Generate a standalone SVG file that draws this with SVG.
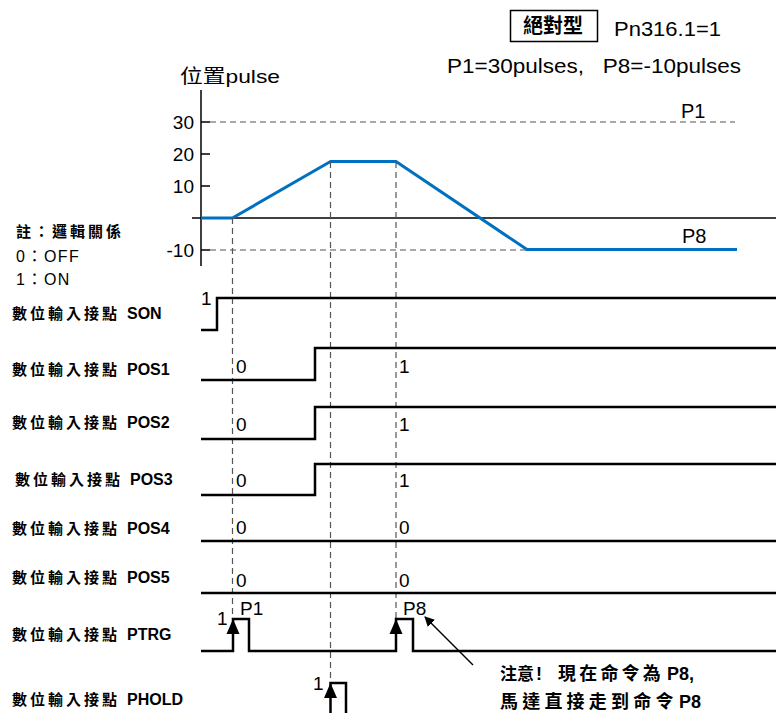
<svg xmlns="http://www.w3.org/2000/svg" width="776" height="713" viewBox="0 0 776 713">
<style>
text{font-family:"Liberation Sans","Noto Sans CJK TC",sans-serif;fill:#000}
.lbl{font-size:15px;font-weight:bold;letter-spacing:3px}
.lat{font-size:16px;font-weight:bold}
.ax{font-size:19px;text-anchor:end}
.v{font-size:19px}
.sig{fill:none;stroke:#000;stroke-width:2.5}
.dash{fill:none;stroke:#555;stroke-width:1.2;stroke-dasharray:6,4}
.blk{fill:none;stroke:#000;stroke-width:1.5}
.tri{fill:#000;stroke:none}
.ann{font-size:18px;font-weight:bold}
</style>
<defs>
<marker id="ah" viewBox="0 0 10 10" refX="9" refY="5" markerWidth="10" markerHeight="10" markerUnits="userSpaceOnUse" orient="auto"><path d="M0,0L10,5L0,10z" fill="#000"/></marker>
</defs>
<g id="header">
<rect x="510.5" y="10.5" width="87" height="31" fill="none" stroke="#000" stroke-width="1.5"/>
<text x="553" y="33" font-size="20" font-weight="bold" text-anchor="middle">絕對型</text>
<text x="614" y="36" font-size="20" textLength="107" lengthAdjust="spacingAndGlyphs">Pn316.1=1</text>
<text x="447" y="73" font-size="20" textLength="294" lengthAdjust="spacingAndGlyphs" xml:space="preserve">P1=30pulses,   P8=-10pulses</text>
</g>
<g id="note">
<text x="16" y="237" font-size="15" font-weight="bold" letter-spacing="3">註：邏輯關係</text>
<text x="16" y="262" font-size="16" letter-spacing="1.5">0：OFF</text>
<text x="16" y="285" font-size="16" letter-spacing="1.5">1：ON</text>
</g>
<g id="position-chart">
<text x="180" y="83" font-size="19" textLength="100" lengthAdjust="spacingAndGlyphs">位置pulse</text>
<line class="blk" x1="201" y1="90" x2="201" y2="266"/>
<line class="blk" x1="192" y1="218" x2="776" y2="218"/>
<line class="blk" x1="201" y1="122" x2="210" y2="122"/>
<line class="blk" x1="201" y1="154" x2="210" y2="154"/>
<line class="blk" x1="201" y1="186" x2="210" y2="186"/>
<line class="blk" x1="201" y1="250" x2="210" y2="250"/>
<line class="dash" x1="210" y1="122" x2="735" y2="122"/>
<line class="dash" x1="210" y1="250" x2="527" y2="250"/>
<text class="ax" x="194" y="128.5">30</text>
<text class="ax" x="194" y="160.5">20</text>
<text class="ax" x="194" y="192.5">10</text>
<text class="ax" x="194" y="256.5">-10</text>
<text x="681" y="118" font-size="20">P1</text>
<text x="682" y="243" font-size="20">P8</text>
<polyline points="201,218 232.5,218 330.5,161.5 396,161.5 527,249.5 737,249.5" fill="none" stroke="#0070C0" stroke-width="3" stroke-linejoin="round"/>
</g>
<g id="connectors">
<line class="dash" x1="232.5" y1="218" x2="232.5" y2="619"/>
<line class="dash" x1="330.5" y1="162" x2="330.5" y2="683"/>
<line class="dash" x1="396" y1="162" x2="396" y2="619"/>
<line x1="473" y1="665" x2="425" y2="617" stroke="#000" stroke-width="1.5" marker-end="url(#ah)"/>
</g>
<g id="SON">
<text class="lbl" x="12" y="319">數位輸入接點</text>
<text class="lat" x="127" y="319">SON</text>
<polyline class="sig" points="201,330 217,330 217,298 776,298"/>
<text class="v" x="201" y="305">1</text>
</g>
<g id="POS1">
<text class="lbl" x="12" y="375">數位輸入接點</text>
<text class="lat" x="127" y="375">POS1</text>
<polyline class="sig" points="201,380 315,380 315,348 776,348"/>
<text class="v" x="236" y="373">0</text>
<text class="v" x="399" y="373">1</text>
</g>
<g id="POS2">
<text class="lbl" x="12" y="428">數位輸入接點</text>
<text class="lat" x="127" y="428">POS2</text>
<polyline class="sig" points="201,439 315,439 315,407 776,407"/>
<text class="v" x="236" y="431">0</text>
<text class="v" x="399" y="431">1</text>
</g>
<g id="POS3">
<text class="lbl" x="15" y="485">數位輸入接點</text>
<text class="lat" x="130" y="485">POS3</text>
<polyline class="sig" points="201,495 315,495 315,464 776,464"/>
<text class="v" x="236" y="487">0</text>
<text class="v" x="399" y="487">1</text>
</g>
<g id="POS4">
<text class="lbl" x="12" y="534">數位輸入接點</text>
<text class="lat" x="127" y="534">POS4</text>
<line class="sig" x1="201" y1="541" x2="776" y2="541"/>
<text class="v" x="236" y="534">0</text>
<text class="v" x="399" y="534">0</text>
</g>
<g id="POS5">
<text class="lbl" x="12" y="583">數位輸入接點</text>
<text class="lat" x="127" y="583">POS5</text>
<line class="sig" x1="201" y1="593" x2="776" y2="593"/>
<text class="v" x="236" y="587">0</text>
<text class="v" x="399" y="587">0</text>
</g>
<g id="PTRG">
<text class="lbl" x="12" y="640">數位輸入接點</text>
<text class="lat" x="127" y="640">PTRG</text>
<polyline class="sig" points="201,651 233,651 233,619 249,619 249,651 396,651 396,619 413,619 413,651 776,651"/>
<path class="tri" d="M233,619L226.5,634L239.5,634z"/>
<path class="tri" d="M396,619L389.5,634L402.5,634z"/>
<text class="v" x="217" y="625">1</text>
<text class="v" x="240" y="615">P1</text>
<text class="v" x="403" y="615">P8</text>
</g>
<g id="PHOLD">
<text class="lbl" x="12" y="705">數位輸入接點</text>
<text class="lat" x="127" y="705">PHOLD</text>
<polyline class="sig" points="330.5,713 330.5,683 346,683 346,713"/>
<path class="tri" d="M330.5,683L324,698L337,698z"/>
<text class="v" x="313" y="690">1</text>
</g>
<g id="annotation">
<text class="ann" y="680"><tspan x="500" font-size="17">注意</tspan><tspan x="536">!</tspan><tspan x="558" letter-spacing="3.2">現在命令為</tspan><tspan x="667">P8,</tspan></text>
<text class="ann" y="708"><tspan x="500" letter-spacing="4.2">馬達直接走到命令</tspan><tspan x="679">P8</tspan></text>
</g>
</svg>
